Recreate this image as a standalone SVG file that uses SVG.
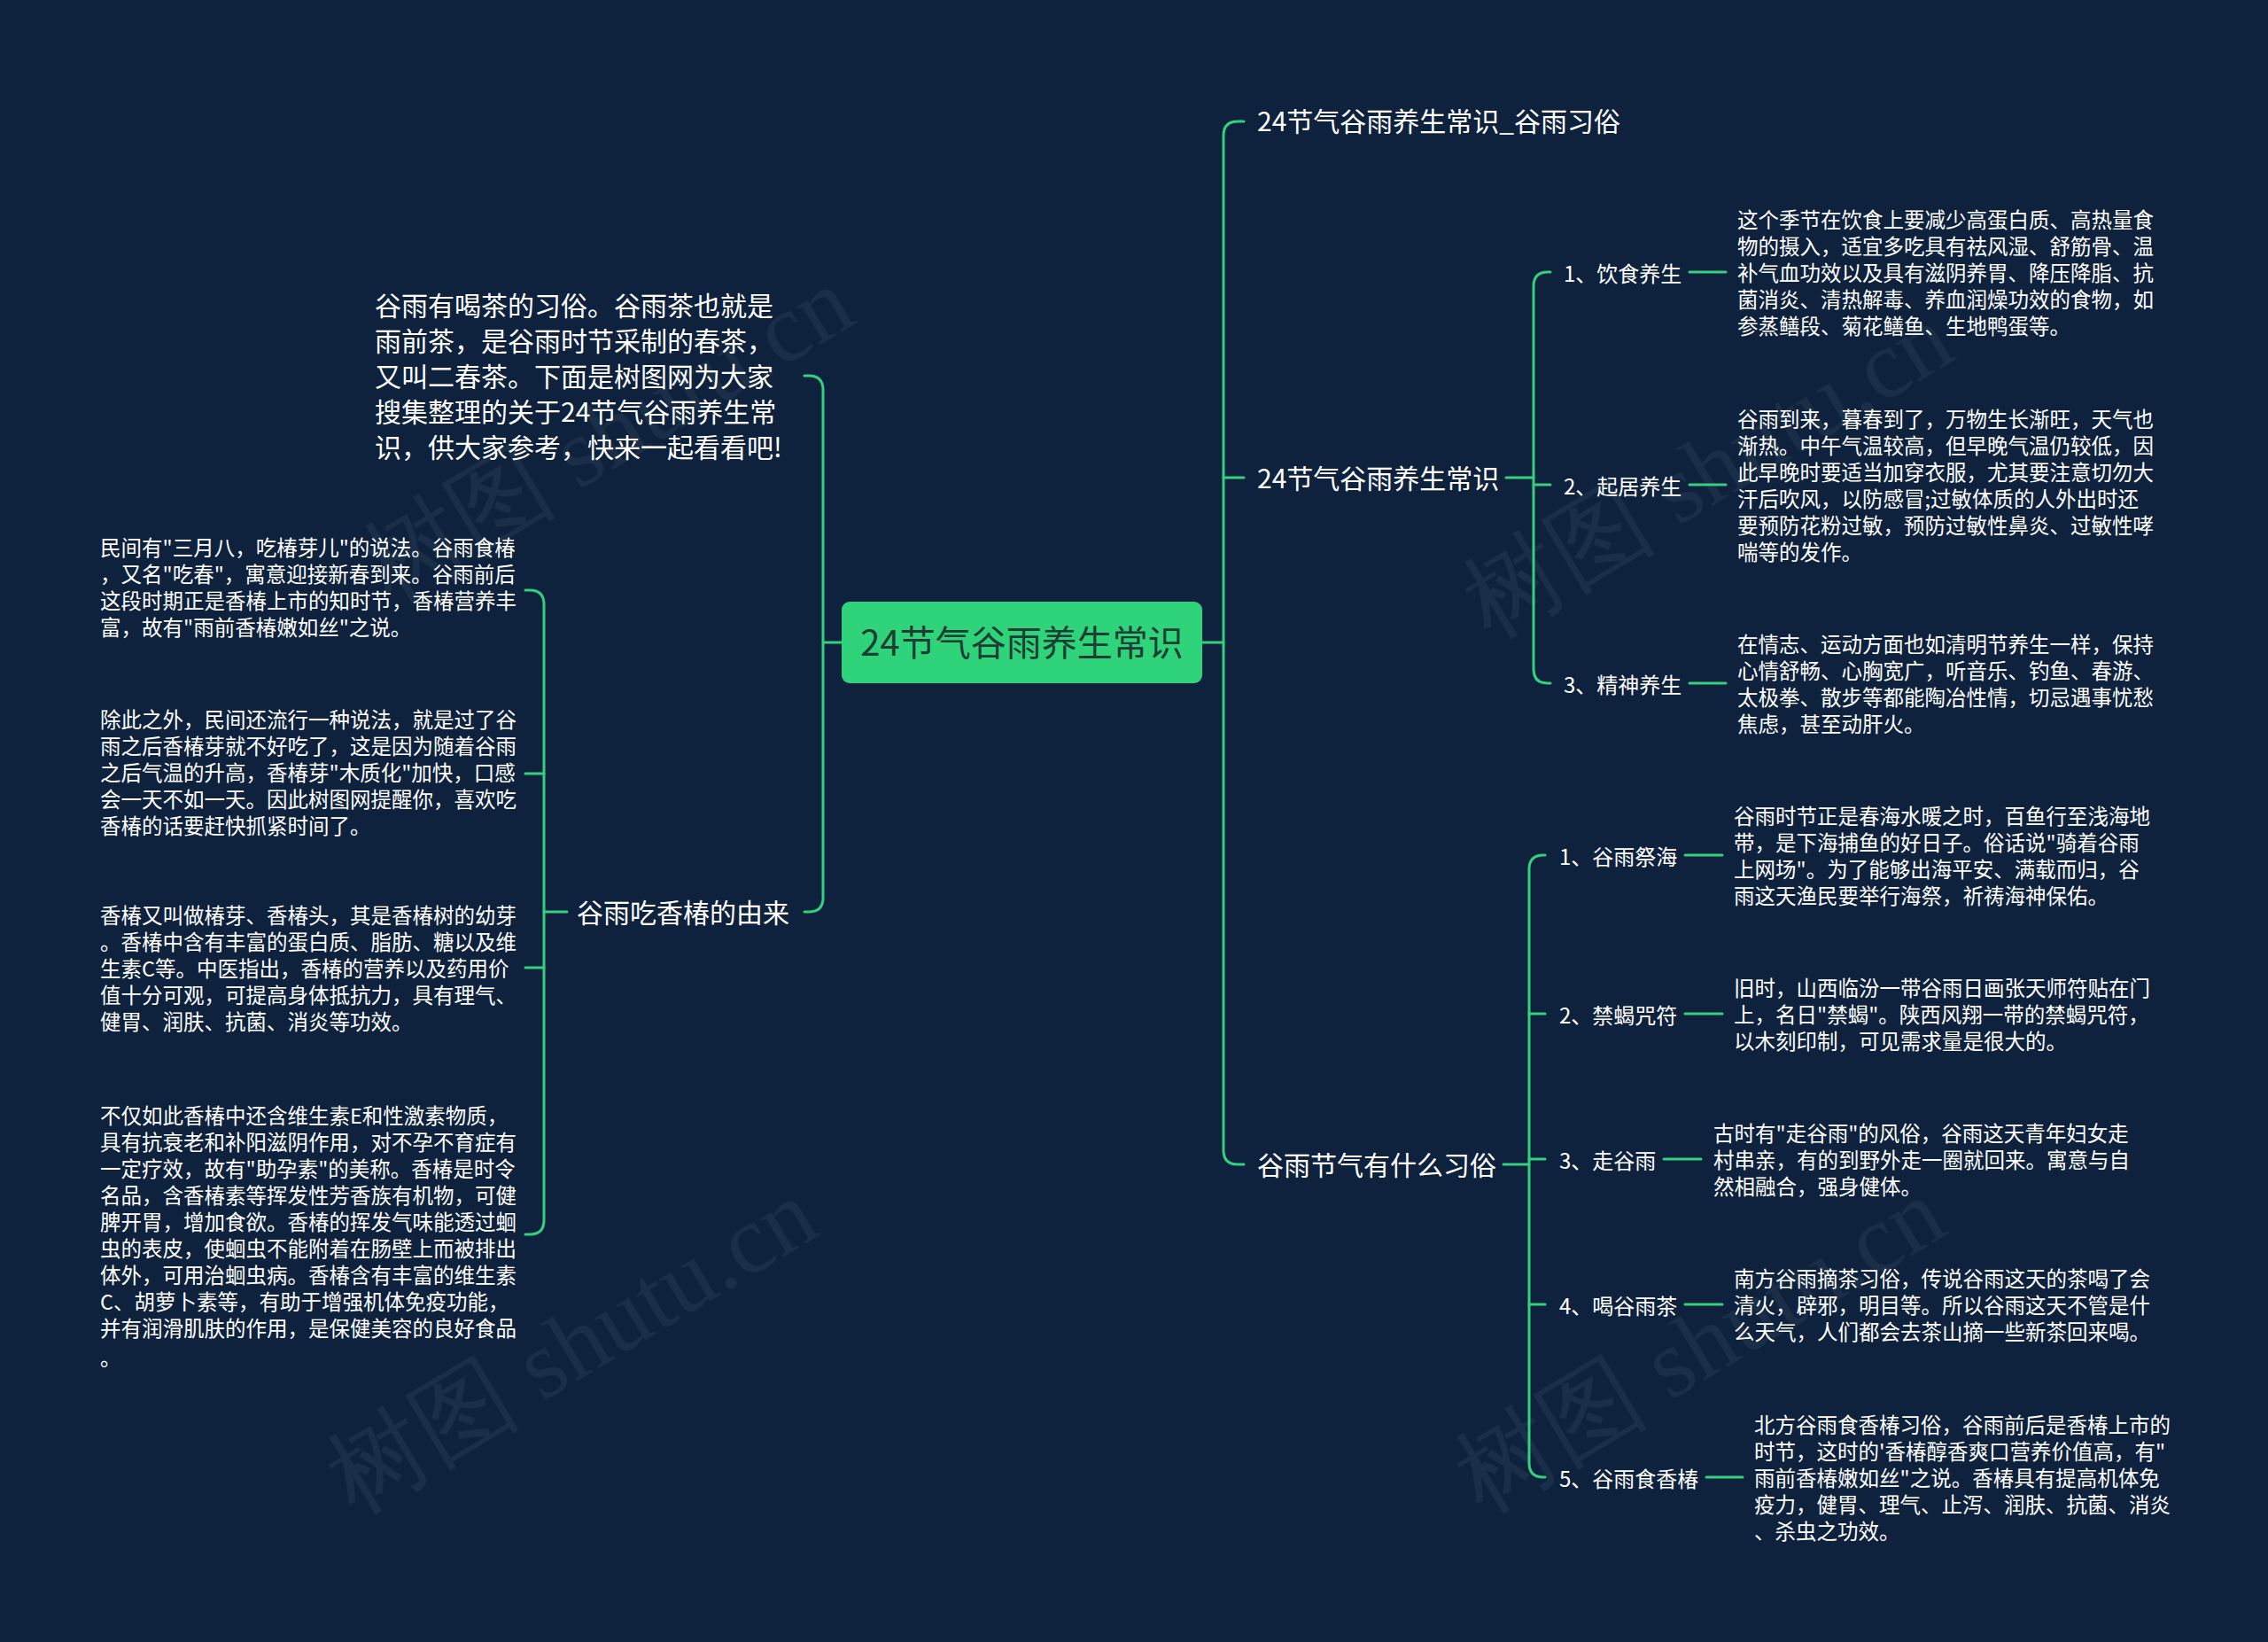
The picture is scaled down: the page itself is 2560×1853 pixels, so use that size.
<svg xmlns="http://www.w3.org/2000/svg" width="2560" height="1853" viewBox="0 0 2560 1853">
<style>
text{font-family:"Noto Sans CJK SC","Noto Sans",sans-serif;dominant-baseline:central;}
.bg{fill:#0e223d;}
.c{stroke:#35d07f;stroke-width:3;fill:none;stroke-linecap:round;}
.root{fill:#2fd47a;}
.rt{font-size:40px;fill:#1c3d33;}
.l1{font-size:30px;fill:#ffffff;}
.l2{font-size:24px;fill:#ffffff;}
.p{font-size:23.5px;fill:#ffffff;}
.wm{font-family:"Liberation Serif",serif;font-size:110px;fill:#ffffff;opacity:0.05;}
</style>
<rect class="bg" x="0" y="0" width="2560" height="1853"/>
<g id="watermarks">
<text class="wm" transform="translate(686,490) rotate(-31)" text-anchor="middle">树图 shutu.cn</text>
<text class="wm" transform="translate(1927,531) rotate(-31)" text-anchor="middle">树图 shutu.cn</text>
<text class="wm" transform="translate(645,1519) rotate(-31)" text-anchor="middle">树图 shutu.cn</text>
<text class="wm" transform="translate(1918,1518) rotate(-31)" text-anchor="middle">树图 shutu.cn</text>
</g>
<g id="connectors">
<path class="c" d="M1357,725 H1381"/>
<path class="c" d="M1404,137 H1397 Q1381,137 1381,153 V1298 Q1381,1314 1397,1314 H1404"/>
<path class="c" d="M1381,539 H1404"/>
<path class="c" d="M1700,539 H1731"/>
<path class="c" d="M1750,307 H1747 Q1731,307 1731,323 V755 Q1731,771 1747,771 H1750"/>
<path class="c" d="M1731,547 H1750"/>
<path class="c" d="M1697,1314 H1726"/>
<path class="c" d="M1744,965 H1742 Q1726,965 1726,981 V1651 Q1726,1667 1742,1667 H1744"/>
<path class="c" d="M1726,1144 H1744"/>
<path class="c" d="M1726,1308 H1744"/>
<path class="c" d="M1726,1472 H1744"/>
<path class="c" d="M1907,307 H1948"/>
<path class="c" d="M1907,547 H1948"/>
<path class="c" d="M1907,771 H1948"/>
<path class="c" d="M1902,965 H1944"/>
<path class="c" d="M1902,1144 H1944"/>
<path class="c" d="M1878,1308 H1920"/>
<path class="c" d="M1902,1472 H1944"/>
<path class="c" d="M1926,1667 H1967"/>
<path class="c" d="M950,725 H929"/>
<path class="c" d="M908,424 H913 Q929,424 929,440 V1013 Q929,1029 913,1029 H908"/>
<path class="c" d="M640,1029 H614"/>
<path class="c" d="M593,666 H598 Q614,666 614,682 V1377 Q614,1393 598,1393 H593"/>
<path class="c" d="M614,873 H593"/>
<path class="c" d="M614,1092 H593"/>
</g>
<g id="root">
<rect class="root" x="950" y="679" width="407" height="92" rx="9"/>
<text class="rt" x="1153.5" y="723" text-anchor="middle">24节气谷雨养生常识</text>
</g>
<g id="n-xisu-title">
<text class="l1" x="1419" y="135">24节气谷雨养生常识_谷雨习俗</text>
</g>
<g id="n-yangsheng">
<text class="l1" x="1419" y="538">24节气谷雨养生常识</text>
</g>
<g id="n-xisu">
<text class="l1" x="1419" y="1313">谷雨节气有什么习俗</text>
</g>
<g id="n-yinshi">
<text class="l2" x="1765" y="307">1、饮食养生</text>
</g>
<g id="n-yinshi-p">
<text class="p"><tspan x="1961" y="247">这个季节在饮食上要减少高蛋白质、高热量食</tspan><tspan x="1961" y="277">物的摄入，适宜多吃具有祛风湿、舒筋骨、温</tspan><tspan x="1961" y="307">补气血功效以及具有滋阴养胃、降压降脂、抗</tspan><tspan x="1961" y="337">菌消炎、清热解毒、养血润燥功效的食物，如</tspan><tspan x="1961" y="367">参蒸鳝段、菊花鳝鱼、生地鸭蛋等。</tspan></text>
</g>
<g id="n-qiju">
<text class="l2" x="1765" y="547">2、起居养生</text>
</g>
<g id="n-qiju-p">
<text class="p"><tspan x="1961" y="472">谷雨到来，暮春到了，万物生长渐旺，天气也</tspan><tspan x="1961" y="502">渐热。中午气温较高，但早晚气温仍较低，因</tspan><tspan x="1961" y="532">此早晚时要适当加穿衣服，尤其要注意切勿大</tspan><tspan x="1961" y="562">汗后吹风，以防感冒;过敏体质的人外出时还</tspan><tspan x="1961" y="592">要预防花粉过敏，预防过敏性鼻炎、过敏性哮</tspan><tspan x="1961" y="622">喘等的发作。</tspan></text>
</g>
<g id="n-jingshen">
<text class="l2" x="1765" y="771">3、精神养生</text>
</g>
<g id="n-jingshen-p">
<text class="p"><tspan x="1961" y="726">在情志、运动方面也如清明节养生一样，保持</tspan><tspan x="1961" y="756">心情舒畅、心胸宽广，听音乐、钓鱼、春游、</tspan><tspan x="1961" y="786">太极拳、散步等都能陶冶性情，切忌遇事忧愁</tspan><tspan x="1961" y="816">焦虑，甚至动肝火。</tspan></text>
</g>
<g id="n-jihai">
<text class="l2" x="1760" y="965">1、谷雨祭海</text>
</g>
<g id="n-jihai-p">
<text class="p"><tspan x="1957" y="920">谷雨时节正是春海水暖之时，百鱼行至浅海地</tspan><tspan x="1957" y="950">带，是下海捕鱼的好日子。俗话说"骑着谷雨</tspan><tspan x="1957" y="980">上网场"。为了能够出海平安、满载而归，谷</tspan><tspan x="1957" y="1010">雨这天渔民要举行海祭，祈祷海神保佑。</tspan></text>
</g>
<g id="n-jinxie">
<text class="l2" x="1760" y="1144">2、禁蝎咒符</text>
</g>
<g id="n-jinxie-p">
<text class="p"><tspan x="1957" y="1114">旧时，山西临汾一带谷雨日画张天师符贴在门</tspan><tspan x="1957" y="1144">上，名日"禁蝎"。陕西风翔一带的禁蝎咒符，</tspan><tspan x="1957" y="1174">以木刻印制，可见需求量是很大的。</tspan></text>
</g>
<g id="n-zouguyu">
<text class="l2" x="1760" y="1308">3、走谷雨</text>
</g>
<g id="n-zouguyu-p">
<text class="p"><tspan x="1934" y="1278">古时有"走谷雨"的风俗，谷雨这天青年妇女走</tspan><tspan x="1934" y="1308">村串亲，有的到野外走一圈就回来。寓意与自</tspan><tspan x="1934" y="1338">然相融合，强身健体。</tspan></text>
</g>
<g id="n-hecha">
<text class="l2" x="1760" y="1472">4、喝谷雨茶</text>
</g>
<g id="n-hecha-p">
<text class="p"><tspan x="1957" y="1442">南方谷雨摘茶习俗，传说谷雨这天的茶喝了会</tspan><tspan x="1957" y="1472">清火，辟邪，明目等。所以谷雨这天不管是什</tspan><tspan x="1957" y="1502">么天气，人们都会去茶山摘一些新茶回来喝。</tspan></text>
</g>
<g id="n-xiangchun">
<text class="l2" x="1760" y="1667">5、谷雨食香椿</text>
</g>
<g id="n-xiangchun-p">
<text class="p"><tspan x="1980" y="1607">北方谷雨食香椿习俗，谷雨前后是香椿上市的</tspan><tspan x="1980" y="1637">时节，这时的'香椿醇香爽口营养价值高，有"</tspan><tspan x="1980" y="1667">雨前香椿嫩如丝"之说。香椿具有提高机体免</tspan><tspan x="1980" y="1697">疫力，健胃、理气、止泻、润肤、抗菌、消炎</tspan><tspan x="1980" y="1727">、杀虫之功效。</tspan></text>
</g>
<g id="n-intro">
<text class="l1"><tspan x="423" y="343">谷雨有喝茶的习俗。谷雨茶也就是</tspan><tspan x="423" y="383">雨前茶，是谷雨时节采制的春茶，</tspan><tspan x="423" y="423">又叫二春茶。下面是树图网为大家</tspan><tspan x="423" y="463">搜集整理的关于24节气谷雨养生常</tspan><tspan x="423" y="503">识，供大家参考，快来一起看看吧!</tspan></text>
</g>
<g id="n-youlai">
<text class="l1" x="651" y="1028">谷雨吃香椿的由来</text>
</g>
<g id="n-youlai-p1">
<text class="p"><tspan x="113" y="617">民间有"三月八，吃椿芽儿"的说法。谷雨食椿</tspan><tspan x="113" y="647">，又名"吃春"，寓意迎接新春到来。谷雨前后</tspan><tspan x="113" y="677">这段时期正是香椿上市的知时节，香椿营养丰</tspan><tspan x="113" y="707">富，故有"雨前香椿嫩如丝"之说。</tspan></text>
</g>
<g id="n-youlai-p2">
<text class="p"><tspan x="113" y="811">除此之外，民间还流行一种说法，就是过了谷</tspan><tspan x="113" y="841">雨之后香椿芽就不好吃了，这是因为随着谷雨</tspan><tspan x="113" y="871">之后气温的升高，香椿芽"木质化"加快，口感</tspan><tspan x="113" y="901">会一天不如一天。因此树图网提醒你，喜欢吃</tspan><tspan x="113" y="931">香椿的话要赶快抓紧时间了。</tspan></text>
</g>
<g id="n-youlai-p3">
<text class="p"><tspan x="113" y="1032">香椿又叫做椿芽、香椿头，其是香椿树的幼芽</tspan><tspan x="113" y="1062">。香椿中含有丰富的蛋白质、脂肪、糖以及维</tspan><tspan x="113" y="1092">生素C等。中医指出，香椿的营养以及药用价</tspan><tspan x="113" y="1122">值十分可观，可提高身体抵抗力，具有理气、</tspan><tspan x="113" y="1152">健胃、润肤、抗菌、消炎等功效。</tspan></text>
</g>
<g id="n-youlai-p4">
<text class="p"><tspan x="113" y="1258">不仅如此香椿中还含维生素E和性激素物质，</tspan><tspan x="113" y="1288">具有抗衰老和补阳滋阴作用，对不孕不育症有</tspan><tspan x="113" y="1318">一定疗效，故有"助孕素"的美称。香椿是时令</tspan><tspan x="113" y="1348">名品，含香椿素等挥发性芳香族有机物，可健</tspan><tspan x="113" y="1378">脾开胃，增加食欲。香椿的挥发气味能透过蛔</tspan><tspan x="113" y="1408">虫的表皮，使蛔虫不能附着在肠壁上而被排出</tspan><tspan x="113" y="1438">体外，可用治蛔虫病。香椿含有丰富的维生素</tspan><tspan x="113" y="1468">C、胡萝卜素等，有助于增强机体免疫功能，</tspan><tspan x="113" y="1498">并有润滑肌肤的作用，是保健美容的良好食品</tspan><tspan x="113" y="1531">。</tspan></text>
</g>
</svg>
